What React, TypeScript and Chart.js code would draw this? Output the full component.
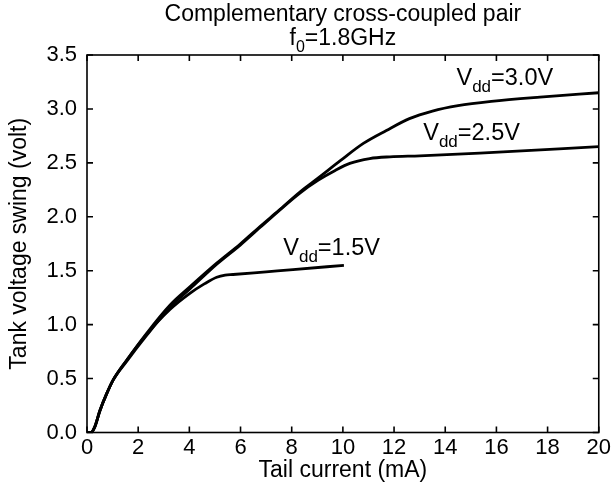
import { useEffect, useRef } from "react";
import { Chart, registerables } from "chart.js";

Chart.register(...registerables);

// ---- data ----
const currentVdd30 = [0, 0.15, 0.3, 0.5, 0.77, 1.03, 1.55, 2.33, 3.24, 4.02, 5.07, 6.0, 6.76, 7.5, 8.32, 9.04, 9.9, 10.8, 11.7, 12.6, 13.5, 14.5, 15.8, 17.7, 20];
const swingVdd30 = [0, 0, 0.05, 0.2, 0.36, 0.49, 0.67, 0.92, 1.18, 1.35, 1.57, 1.75, 1.91, 2.06, 2.23, 2.36, 2.52, 2.68, 2.8, 2.91, 2.98, 3.03, 3.07, 3.11, 3.15];

const currentVdd25 = [0, 0.15, 0.3, 0.5, 0.77, 1.03, 1.55, 2.33, 3.24, 4.02, 5.07, 6.0, 6.76, 8.32, 9.04, 9.7, 10.27, 11.05, 11.84, 13.0, 15.35, 20];
const swingVdd25 = [0, 0, 0.05, 0.2, 0.36, 0.49, 0.66, 0.9, 1.16, 1.33, 1.56, 1.74, 1.9, 2.22, 2.34, 2.43, 2.495, 2.54, 2.556, 2.565, 2.59, 2.65];

const currentVdd15 = [0, 0.15, 0.3, 0.5, 0.77, 1.03, 1.55, 2.33, 3.24, 4.02, 4.6, 5.07, 5.4, 5.71, 7.0, 8.05, 10.04];
const swingVdd15 = [0, 0, 0.05, 0.2, 0.36, 0.49, 0.67, 0.91, 1.14, 1.29, 1.38, 1.44, 1.46, 1.465, 1.49, 1.51, 1.55];

const xTickValues = [0, 2, 4, 6, 8, 10, 12, 14, 16, 18, 20];
const yTickValues = [0, 0.5, 1.0, 1.5, 2.0, 2.5, 3.0, 3.5];

const titleLine1 = "Complementary cross-coupled pair";
const titleLine2 = [{ t: "f" }, { t: "0", sub: true }, { t: "=1.8GHz" }];
const xAxisTitle = "Tail current (mA)";
const yAxisTitle = "Tank voltage swing (volt)";

// annotation labels: anchor (data coords of baseline start) and text parts
const labelAnchorsX = [14.44, 13.14, 7.67];
const labelAnchorsY = [3.22, 2.71, 1.645];
const labelValues = ["=3.0V", "=2.5V", "=1.5V"];

const FONT = "'Liberation Sans', Arial, Helvetica, sans-serif";

type Part = { t: string; sub?: boolean };

function drawRich(ctx: CanvasRenderingContext2D, parts: Part[], x: number, y: number, size: number, subSize: number, align: "left" | "center") {
  ctx.save();
  ctx.textBaseline = "alphabetic";
  ctx.textAlign = "left";
  let total = 0;
  for (const p of parts) {
    ctx.font = `${p.sub ? subSize : size}px ${FONT}`;
    total += ctx.measureText(p.t).width;
  }
  let cx = align === "center" ? x - total / 2 : x;
  for (const p of parts) {
    ctx.font = `${p.sub ? subSize : size}px ${FONT}`;
    ctx.fillText(p.t, cx, p.sub ? y + size * 0.3 : y);
    cx += ctx.measureText(p.t).width;
  }
  ctx.restore();
}

const framePlugin = {
  id: "frameAndText",
  afterDraw(chart: any) {
    const { ctx, chartArea } = chart;
    const xs = chart.scales.x;
    const ys = chart.scales.y;
    const { left, right, top, bottom } = chartArea;
    ctx.save();
    ctx.strokeStyle = "#000";
    ctx.fillStyle = "#000";
    ctx.lineWidth = 1.6;
    ctx.strokeRect(left, top, right - left, bottom - top);
    const tl = 6;
    ctx.beginPath();
    for (const v of xTickValues) {
      const px = xs.getPixelForValue(v);
      ctx.moveTo(px, bottom);
      ctx.lineTo(px, bottom - tl);
      ctx.moveTo(px, top);
      ctx.lineTo(px, top + tl);
    }
    for (const v of yTickValues) {
      const py = ys.getPixelForValue(v);
      ctx.moveTo(left, py);
      ctx.lineTo(left + tl, py);
      ctx.moveTo(right, py);
      ctx.lineTo(right - tl, py);
    }
    ctx.stroke();

    // title
    const cxTitle = (left + right) / 2;
    ctx.textAlign = "center";
    ctx.textBaseline = "alphabetic";
    ctx.font = `23px ${FONT}`;
    ctx.fillText(titleLine1, cxTitle, 21);
    drawRich(ctx, titleLine2, cxTitle, 45, 23, 16, "center");

    // annotations
    for (let i = 0; i < labelValues.length; i++) {
      const px = xs.getPixelForValue(labelAnchorsX[i]);
      const py = ys.getPixelForValue(labelAnchorsY[i]);
      drawRich(ctx, [{ t: "V" }, { t: "dd", sub: true }, { t: labelValues[i] }], px, py, 23.5, 17, "left");
    }
    ctx.restore();
  },
};

export default function App() {
  const ref = useRef<HTMLCanvasElement | null>(null);
  useEffect(() => {
    if (!ref.current) return;
    const ds = (xs: number[], ys: number[], label: string) => ({
      label,
      data: xs.map((x, i) => ({ x, y: ys[i] })),
      borderColor: "#000",
      backgroundColor: "#000",
      borderWidth: 2.8,
      pointRadius: 0,
      fill: false,
      cubicInterpolationMode: "monotone" as const,
    });
    const chart = new Chart(ref.current, {
      type: "line",
      data: {
        datasets: [
          ds(currentVdd30, swingVdd30, "Vdd=3.0V"),
          ds(currentVdd25, swingVdd25, "Vdd=2.5V"),
          ds(currentVdd15, swingVdd15, "Vdd=1.5V"),
        ],
      },
      options: {
        animation: false,
        responsive: false,
        devicePixelRatio: 1,
        layout: { padding: { top: 55, right: 14, left: 0, bottom: 0 } },
        plugins: { legend: { display: false }, tooltip: { enabled: false }, title: { display: false } },
        scales: {
          x: {
            type: "linear",
            min: 0,
            max: 20,
            grid: { display: false, drawTicks: false },
            border: { display: false },
            afterFit: (s: any) => { s.height = 53.5; },
            ticks: {
              stepSize: 2,
              color: "#000",
              padding: 2,
              font: { size: 22, family: FONT },
              maxRotation: 0,
              autoSkip: false,
            },
            title: { display: true, text: xAxisTitle, color: "#000", font: { size: 23, family: FONT }, padding: { top: 0, bottom: 2 } },
          },
          y: {
            type: "linear",
            min: 0,
            max: 3.5,
            grid: { display: false, drawTicks: false },
            border: { display: false },
            afterFit: (s: any) => { s.width = 87; },
            ticks: {
              stepSize: 0.5,
              color: "#000",
              padding: 10,
              font: { size: 22, family: FONT },
              callback: (v: any) => Number(v).toFixed(1),
            },
            title: { display: true, text: yAxisTitle, color: "#000", font: { size: 23, family: FONT }, padding: { top: 6, bottom: 0 } },
          },
        },
      },
      plugins: [framePlugin],
    });
    return () => chart.destroy();
  }, []);
  return (
    <div style={{ position: "absolute", left: 0, top: 0, width: 613, height: 486, background: "#fff" }}>
      <canvas ref={ref} width={613} height={486} style={{ width: 613, height: 486 }} />
    </div>
  );
}
